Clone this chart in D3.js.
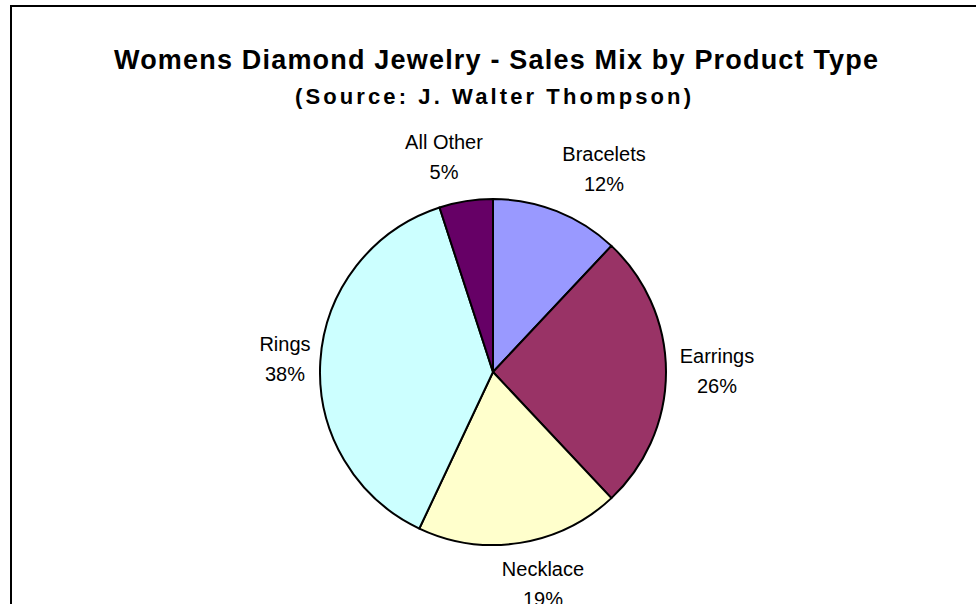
<!DOCTYPE html>
<html>
<head>
<meta charset="utf-8">
<script src="https://cdn.jsdelivr.net/npm/d3@7"></script>
<style>
  html, body { margin: 0; padding: 0; background: #fff; }
  svg { display: block; }
</style>
</head>
<body>
<svg id="chart" width="976" height="604"></svg>
<script>
// Sales mix by product type (percent of sales)
const categories = ["Bracelets", "Earrings", "Necklace", "Rings", "All Other"];
const values = [12, 26, 19, 38, 5];
const colors = ["#9999FF", "#993366", "#FFFFCC", "#CCFFFF", "#660066"];

// Label anchors: centre x and first-line baseline of each two-line label
const labelPos = [
  [604, 161], [717, 363], [543, 576], [285, 351], [444, 149]
];

const svg = d3.select("#chart");
const W = 976, H = 604;
const fontFam = "'Liberation Sans', Arial, Helvetica, sans-serif";

// Chart frame (runs past the right and bottom edges)
svg.append("path")
  .attr("d", `M11,${H + 10} L11,6 L${W + 10},6`)
  .attr("fill", "none")
  .attr("stroke", "#000")
  .attr("stroke-width", 2);

// Titles
svg.append("text")
  .attr("x", 496).attr("y", 69)
  .attr("text-anchor", "middle")
  .attr("font-family", fontFam)
  .attr("font-weight", "bold")
  .attr("font-size", 27)
  .attr("textLength", 764)
  .attr("lengthAdjust", "spacing")
  .text("Womens Diamond Jewelry - Sales Mix by Product Type");

svg.append("text")
  .attr("x", 493).attr("y", 104)
  .attr("text-anchor", "middle")
  .attr("font-family", fontFam)
  .attr("font-weight", "bold")
  .attr("font-size", 22)
  .attr("textLength", 396)
  .attr("lengthAdjust", "spacing")
  .text("(Source: J. Walter Thompson)");

// Pie
const cx = 493, cy = 372, r = 173;
const data = categories.map((c, i) => ({ name: c, value: values[i], color: colors[i] }));
const pie = d3.pie().value(d => d.value).sort(null);
const arc = d3.arc().innerRadius(0).outerRadius(r);

const g = svg.append("g").attr("transform", `translate(${cx},${cy})`);
g.selectAll("path.slice")
  .data(pie(data))
  .join("path")
  .attr("class", "slice")
  .attr("d", arc)
  .attr("fill", d => d.data.color)
  .attr("stroke", "#000")
  .attr("stroke-width", 2)
  .attr("stroke-linejoin", "round");

// Category + percentage labels
const total = d3.sum(values);
const fmt = d3.format(".0%");
const labels = svg.append("g")
  .attr("font-family", fontFam)
  .attr("font-size", 20)
  .attr("text-anchor", "middle")
  .attr("fill", "#000");

data.forEach((d, i) => {
  const [lx, ly] = labelPos[i];
  const t = labels.append("text").attr("x", lx).attr("y", ly);
  t.append("tspan").attr("x", lx).text(d.name);
  t.append("tspan").attr("x", lx).attr("dy", 30).text(fmt(d.value / total));
});
</script>
</body>
</html>
